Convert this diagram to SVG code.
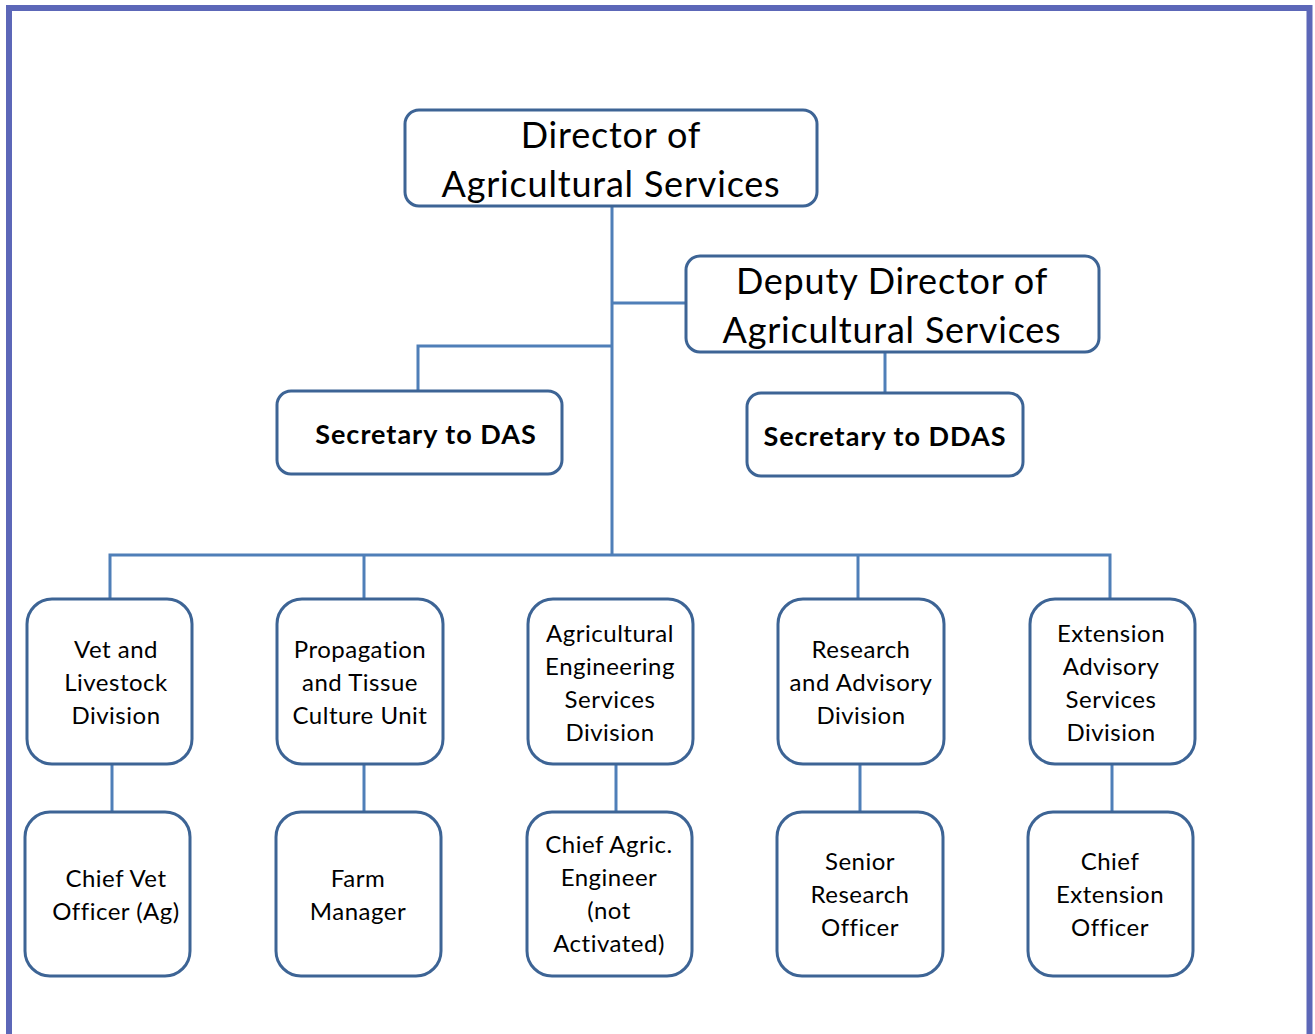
<svg xmlns="http://www.w3.org/2000/svg" width="1315" height="1034" viewBox="0 0 1315 1034">
<style>
.box{fill:#ffffff;stroke:#3d6495;stroke-width:3}
.conn{fill:none;stroke:#4f7fb8;stroke-width:3}
.t{font-family:Lato,"Open Sans",sans-serif;fill:#000;text-anchor:middle}
.big{font-size:36px;letter-spacing:0.8px}
.mid{font-size:24px;letter-spacing:0.5px}
.sec{font-size:27px;font-weight:bold;letter-spacing:1px}
</style>
<rect x="0" y="0" width="1315" height="1034" fill="#ffffff"/>
<path d="M9,1040 V8 H1309.5 V1040" fill="none" stroke="#5c67b8" stroke-width="6"/>
<g id="connectors">
<path class="conn" d="M612,207 V555"/>
<path class="conn" d="M612,303 H686"/>
<path class="conn" d="M612,346 H418 V391"/>
<path class="conn" d="M885,352 V393"/>
<path class="conn" d="M110,599 V555 H1110 V599"/>
<path class="conn" d="M364,555 V599"/>
<path class="conn" d="M858,555 V599"/>
<path class="conn" d="M112,764 V812"/>
<path class="conn" d="M364,764 V812"/>
<path class="conn" d="M616,764 V812"/>
<path class="conn" d="M860,764 V812"/>
<path class="conn" d="M1112,764 V812"/>
</g>
<g id="das">
<rect class="box" x="405" y="110" width="412" height="96" rx="14"/>
<text class="t big" x="611" y="148">Director of</text>
<text class="t big" x="611" y="197">Agricultural Services</text>
</g>
<g id="ddas">
<rect class="box" x="686" y="256" width="413" height="96" rx="14"/>
<text class="t big" x="892" y="294">Deputy Director of</text>
<text class="t big" x="892" y="343">Agricultural Services</text>
</g>
<g id="sec-das">
<rect class="box" x="277" y="391" width="285" height="83" rx="14"/>
<text class="t sec" x="426" y="444">Secretary to DAS</text>
</g>
<g id="sec-ddas">
<rect class="box" x="747" y="393" width="276" height="83" rx="14"/>
<text class="t sec" x="885" y="446">Secretary to DDAS</text>
</g>
<g id="vet">
<rect class="box" x="27" y="599" width="165" height="165" rx="25"/>
<text class="t mid" x="116" y="658">Vet and</text>
<text class="t mid" x="116" y="691">Livestock</text>
<text class="t mid" x="116" y="724">Division</text>
</g>
<g id="prop">
<rect class="box" x="277" y="599" width="166" height="165" rx="25"/>
<text class="t mid" x="360" y="658">Propagation</text>
<text class="t mid" x="360" y="691">and Tissue</text>
<text class="t mid" x="360" y="724">Culture Unit</text>
</g>
<g id="aeng">
<rect class="box" x="528" y="599" width="165" height="165" rx="25"/>
<text class="t mid" x="610" y="642">Agricultural</text>
<text class="t mid" x="610" y="675">Engineering</text>
<text class="t mid" x="610" y="708">Services</text>
<text class="t mid" x="610" y="741">Division</text>
</g>
<g id="res">
<rect class="box" x="778" y="599" width="166" height="165" rx="25"/>
<text class="t mid" x="861" y="658">Research</text>
<text class="t mid" x="861" y="691">and Advisory</text>
<text class="t mid" x="861" y="724">Division</text>
</g>
<g id="ext">
<rect class="box" x="1030" y="599" width="165" height="165" rx="25"/>
<text class="t mid" x="1111" y="642">Extension</text>
<text class="t mid" x="1111" y="675">Advisory</text>
<text class="t mid" x="1111" y="708">Services</text>
<text class="t mid" x="1111" y="741">Division</text>
</g>
<g id="cvo">
<rect class="box" x="25" y="812" width="165" height="164" rx="25"/>
<text class="t mid" x="116" y="887">Chief Vet</text>
<text class="t mid" x="116" y="920">Officer (Ag)</text>
</g>
<g id="farm">
<rect class="box" x="276" y="812" width="165" height="164" rx="25"/>
<text class="t mid" x="358" y="887">Farm</text>
<text class="t mid" x="358" y="920">Manager</text>
</g>
<g id="cae">
<rect class="box" x="527" y="812" width="165" height="164" rx="25"/>
<text class="t mid" x="609" y="853">Chief Agric.</text>
<text class="t mid" x="609" y="886">Engineer</text>
<text class="t mid" x="609" y="919">(not</text>
<text class="t mid" x="609" y="952">Activated)</text>
</g>
<g id="sro">
<rect class="box" x="777" y="812" width="166" height="164" rx="25"/>
<text class="t mid" x="860" y="870">Senior</text>
<text class="t mid" x="860" y="903">Research</text>
<text class="t mid" x="860" y="936">Officer</text>
</g>
<g id="ceo">
<rect class="box" x="1028" y="812" width="165" height="164" rx="25"/>
<text class="t mid" x="1110" y="870">Chief</text>
<text class="t mid" x="1110" y="903">Extension</text>
<text class="t mid" x="1110" y="936">Officer</text>
</g>
</svg>
